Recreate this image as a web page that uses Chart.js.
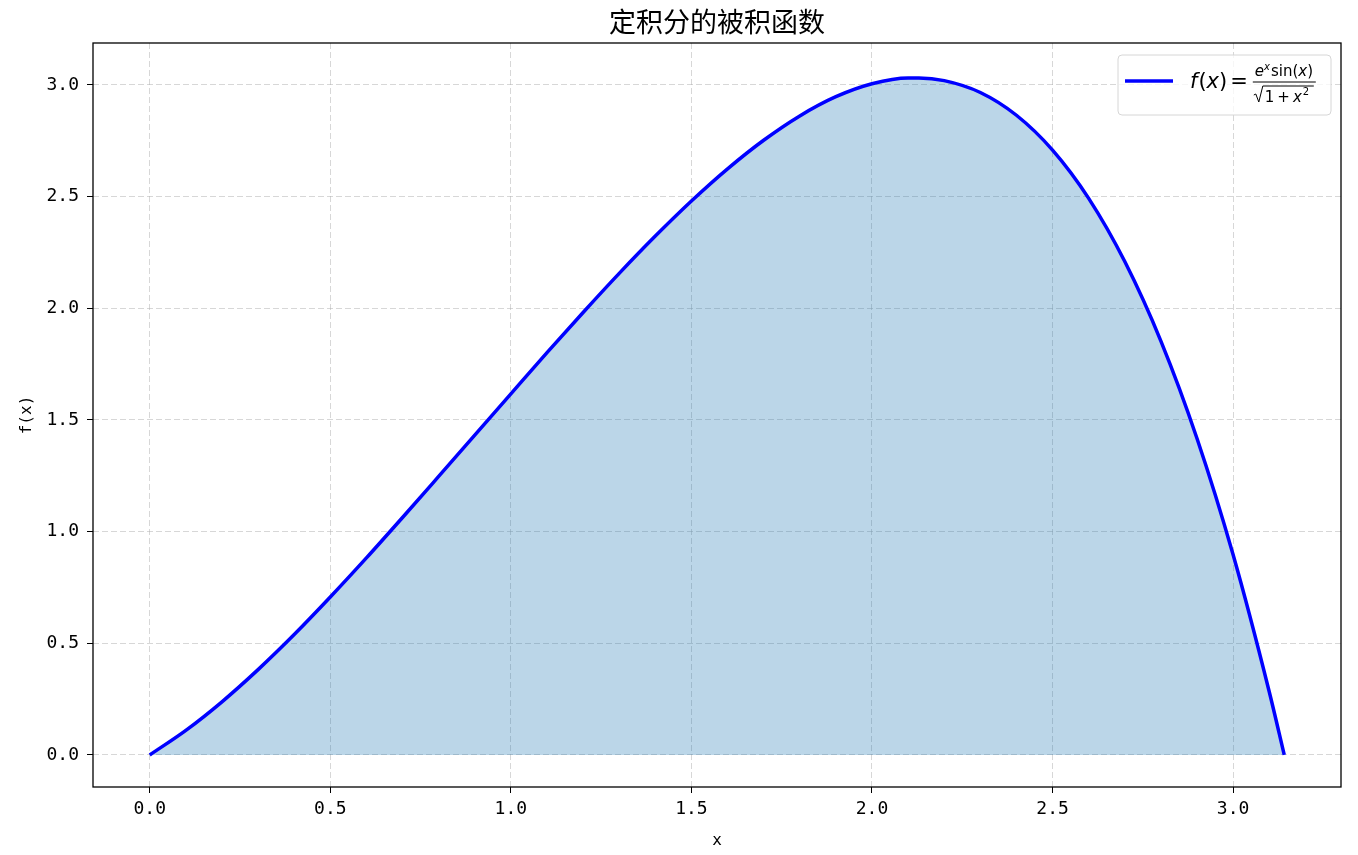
<!DOCTYPE html>
<html>
<head>
<meta charset="utf-8">
<script src="https://cdn.jsdelivr.net/npm/chart.js@4.4.1/dist/chart.umd.min.js"></script>
<style>
  html, body { margin: 0; padding: 0; background: #ffffff; }
  #wrap { width: 1358px; height: 855px; position: relative; }
</style>
</head>
<body>
<div id="wrap"><canvas id="c" width="1358" height="855"></canvas></div>
<script>
// ---- data ----
const xValues = [0.0, 0.1, 0.2, 0.3, 0.4, 0.5, 0.6, 0.7, 0.8, 0.9, 1.0, 1.1, 1.2, 1.3, 1.4, 1.5,
  1.6, 1.7, 1.8, 1.9, 2.0, 2.1, 2.13, 2.2, 2.3, 2.4, 2.5, 2.6, 2.7, 2.8, 2.9, 3.0, 3.1, 3.1416];
const fValues = [0.000, 0.110, 0.238, 0.382, 0.539, 0.707, 0.882, 1.063, 1.247, 1.432, 1.617, 1.801,
  1.981, 2.156, 2.323, 2.480, 2.624, 2.752, 2.861, 2.947, 3.005, 3.031, 3.031, 3.019, 2.966, 2.864,
  2.708, 2.492, 2.209, 1.853, 1.417, 0.896, 0.283, 0.000];
const xTicks = [0.0, 0.5, 1.0, 1.5, 2.0, 2.5, 3.0];
const yTicks = [0.0, 0.5, 1.0, 1.5, 2.0, 2.5, 3.0];
const chartTitle = '定积分的被积函数';
const xLabel = 'x';
const yLabel = 'f(x)';

const points = xValues.map((x, i) => ({ x: x, y: fValues[i] }));
const CJK = "'Noto Sans CJK SC', sans-serif";
const MONO = "'DejaVu Sans Mono', monospace";
const MATH = "'DejaVu Sans', sans-serif";

// title centred over the plot area
const plotTitle = {
  id: 'plotTitle',
  afterDraw(chart) {
    const a = chart.chartArea, ctx = chart.ctx;
    ctx.save();
    ctx.fillStyle = '#000';
    ctx.font = "27px " + CJK;
    ctx.textAlign = 'center';
    ctx.textBaseline = 'middle';
    ctx.fillText(chartTitle, (a.left + a.right) / 2, 22);
    ctx.restore();
  }
};

// custom legend with the fraction formula
const formulaLegend = {
  id: 'formulaLegend',
  afterDraw(chart) {
    const ctx = chart.ctx;
    const right = chart.chartArea.right - 10;
    const top = chart.chartArea.top + 12;
    const w = 213, h = 60;
    const left = right - w;
    ctx.save();
    ctx.fillStyle = 'rgba(255,255,255,0.8)';
    ctx.strokeStyle = '#d6d6d6';
    ctx.lineWidth = 1;
    const r = 4;
    ctx.beginPath();
    ctx.moveTo(left + r, top);
    ctx.lineTo(left + w - r, top);
    ctx.quadraticCurveTo(left + w, top, left + w, top + r);
    ctx.lineTo(left + w, top + h - r);
    ctx.quadraticCurveTo(left + w, top + h, left + w - r, top + h);
    ctx.lineTo(left + r, top + h);
    ctx.quadraticCurveTo(left, top + h, left, top + h - r);
    ctx.lineTo(left, top + r);
    ctx.quadraticCurveTo(left, top, left + r, top);
    ctx.closePath();
    ctx.fill();
    ctx.stroke();
    // line sample
    const cy = top + 26;
    ctx.strokeStyle = '#0000ff';
    ctx.lineWidth = 3.5;
    ctx.beginPath();
    ctx.moveTo(left + 7, cy);
    ctx.lineTo(left + 55, cy);
    ctx.stroke();

    ctx.fillStyle = '#000';
    ctx.textAlign = 'left';
    ctx.textBaseline = 'alphabetic';
    function put(txt, font, x, y) {
      ctx.font = font;
      ctx.fillText(txt, x, y);
      return x + ctx.measureText(txt).width;
    }
    let x = left + 72;
    const base = cy + 7;
    x = put('f', 'italic 21px ' + MATH, x, base);
    x = put('(', '21px ' + MATH, x + 1, base);
    x = put('x', 'italic 21px ' + MATH, x, base);
    x = put(')', '21px ' + MATH, x, base);
    x = put('=', '21px ' + MATH, x + 3, base);
    // fraction
    const fx = x + 5, fw = 63;
    ctx.strokeStyle = '#000';
    ctx.lineWidth = 1;
    ctx.beginPath();
    ctx.moveTo(fx, cy + 1);
    ctx.lineTo(fx + fw, cy + 1);
    ctx.stroke();
    let nx = fx + 2;
    const nb = cy - 5;
    nx = put('e', 'italic 15px ' + MATH, nx, nb);
    nx = put('x', 'italic 10px ' + MATH, nx, nb - 6);
    nx = put('sin', '15px ' + MATH, nx + 1, nb);
    nx = put('(', '15px ' + MATH, nx, nb);
    nx = put('x', 'italic 15px ' + MATH, nx, nb);
    nx = put(')', '15px ' + MATH, nx, nb);
    // denominator
    const db = cy + 21;
    ctx.beginPath();
    ctx.moveTo(fx + 1, cy + 14);
    ctx.lineTo(fx + 3, cy + 13);
    ctx.lineTo(fx + 6, cy + 21);
    ctx.lineTo(fx + 10, cy + 5);
    ctx.lineTo(fx + 61, cy + 5);
    ctx.stroke();
    let dx = fx + 12;
    dx = put('1', '15px ' + MATH, dx, db);
    dx = put('+', '15px ' + MATH, dx + 3, db);
    dx = put('x', 'italic 15px ' + MATH, dx + 3, db);
    dx = put('2', '10px ' + MATH, dx + 1, db - 7);
    ctx.restore();
  }
};

// frame around plot area
const frame = {
  id: 'frame',
  afterDatasetsDraw(chart) {
    const a = chart.chartArea, ctx = chart.ctx;
    ctx.save();
    ctx.strokeStyle = '#000';
    ctx.lineWidth = 1.3;
    ctx.strokeRect(a.left, a.top, a.right - a.left, a.bottom - a.top);
    ctx.restore();
  }
};

new Chart(document.getElementById('c'), {
  type: 'line',
  data: {
    datasets: [{
      data: points,
      borderColor: '#0000ff',
      borderWidth: 3.5,
      backgroundColor: 'rgba(31,119,180,0.3)',
      fill: 'origin',
      pointRadius: 0,
      cubicInterpolationMode: 'monotone'
    }]
  },
  options: {
    responsive: false,
    animation: false,
    layout: { padding: { left: 0, right: 17, top: 43, bottom: 0 } },
    plugins: {
      legend: { display: false },
      tooltip: { enabled: false },
      title: { display: false }
    },
    scales: {
      x: {
        type: 'linear',
        min: -0.1571,
        max: 3.2987,
        afterBuildTicks(axis) { axis.ticks = xTicks.map(v => ({ value: v })); },
        afterFit(axis) { axis.height = 68; },
        ticks: {
          color: '#000',
          font: { family: MONO, size: 18 },
          padding: 6,
          maxRotation: 0,
          callback: v => Number(v).toFixed(1)
        },
        grid: {
          color: 'rgba(176,176,176,0.5)',
          tickColor: '#000',
          tickLength: 6,
          drawOnChartArea: true
        },
        border: { display: false, dash: [6, 3] },
        title: {
          display: true,
          text: xLabel,
          color: '#000',
          font: { family: MONO, size: 16 },
          padding: { top: 0, bottom: 5 }
        }
      },
      y: {
        type: 'linear',
        min: -0.1435,
        max: 3.1875,
        afterBuildTicks(axis) { axis.ticks = yTicks.map(v => ({ value: v })); },
        afterFit(axis) { axis.width = 93; },
        ticks: {
          color: '#000',
          font: { family: MONO, size: 18 },
          padding: 8,
          callback: v => Number(v).toFixed(1)
        },
        grid: {
          color: 'rgba(176,176,176,0.5)',
          tickColor: '#000',
          tickLength: 6
        },
        border: { display: false, dash: [6, 3] },
        title: {
          display: true,
          text: yLabel,
          color: '#000',
          font: { family: MONO, size: 16 },
          padding: { top: 17, bottom: 0 }
        }
      }
    }
  },
  plugins: [frame, formulaLegend, plotTitle]
});
</script>
</body>
</html>
